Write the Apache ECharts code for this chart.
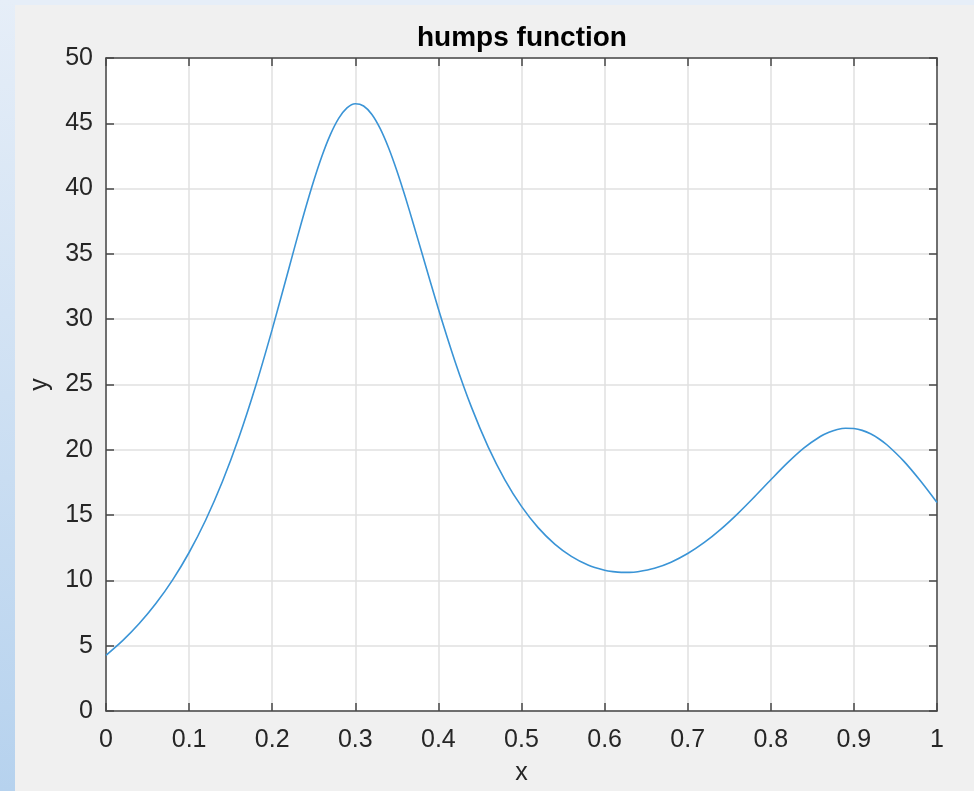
<!DOCTYPE html>
<html>
<head>
<meta charset="utf-8">
<script src="https://cdn.jsdelivr.net/npm/echarts@6/dist/echarts.min.js"></script>
<style>
html,body{margin:0;padding:0;background:#f0f0f0;}
#chart{width:974px;height:791px;}
</style>
</head>
<body>
<div id="chart"></div>
<script>
const titleText = 'humps function';
const xName = 'x';
const yName = 'y';
const xValues = [0.00,0.02,0.04,0.06,0.08,0.10,0.12,0.14,0.16,0.18,0.20,0.22,0.23,0.24,0.25,0.26,0.27,0.28,0.29,0.30,0.31,0.32,0.33,0.34,0.35,0.36,0.37,0.38,0.40,0.42,0.44,0.46,0.48,0.50,0.52,0.54,0.56,0.58,0.60,0.61,0.62,0.63,0.64,0.66,0.68,0.70,0.72,0.74,0.76,0.78,0.80,0.82,0.84,0.86,0.87,0.88,0.89,0.90,0.91,0.92,0.93,0.94,0.96,0.98,1.00];
const yValues = [4.267,5.391,6.699,8.228,10.024,12.137,14.626,17.549,20.955,24.861,29.220,33.869,36.206,38.476,40.606,42.520,44.136,45.376,46.178,46.500,46.328,45.677,44.588,43.124,41.364,39.389,37.277,35.100,30.781,26.768,23.227,20.211,17.705,15.667,14.043,12.783,11.843,11.185,10.783,10.671,10.616,10.615,10.668,10.930,11.395,12.056,12.904,13.926,15.096,16.376,17.704,18.995,20.145,21.036,21.349,21.558,21.655,21.632,21.488,21.225,20.849,20.366,19.131,17.625,15.961];
const xTickLabels = ['0','0.1','0.2','0.3','0.4','0.5','0.6','0.7','0.8','0.9','1'];
const yTickLabels = ['0','5','10','15','20','25','30','35','40','45','50'];

const FONT = '"Liberation Sans", Arial, Helvetica, sans-serif';
const TXT = '#262626';
const AX = '#474747';
const chart = echarts.init(document.getElementById('chart'), null, {renderer:'canvas'});
const pts = xValues.map((x,i)=>[x,yValues[i]]);
const tickCommon = {show:true, inside:true, length:8, lineStyle:{color:AX, width:1.5}};
const lineCommon = {show:true, onZero:false, lineStyle:{color:AX, width:1.5}};
chart.setOption({
  backgroundColor:'#f0f0f0',
  animation:false,
  graphic:[
    {type:'rect', left:0, top:0, shape:{x:0,y:0,width:974,height:5}, style:{fill:'#e6eef8'}, z:-10},
    {type:'rect', left:0, top:0, shape:{x:0,y:0,width:15,height:791},
     style:{fill:new echarts.graphic.LinearGradient(0,0,0,1,[{offset:0,color:'#e6eef8'},{offset:1,color:'#b6d2ee'}])}, z:-10}
  ],
  title:{text:titleText, left:412, top:19,
    textStyle:{fontFamily:FONT, fontWeight:'bold', fontSize:28, color:'#000'}},
  grid:{left:106, top:58, right:37, bottom:78, show:true, backgroundColor:'#ffffff', borderWidth:0},
  xAxis:[{
    type:'value', min:0, max:1, interval:0.1, position:'bottom',
    name:xName, nameLocation:'middle', nameGap:50,
    nameTextStyle:{fontFamily:FONT, fontSize:25, color:TXT},
    axisLine:lineCommon, axisTick:tickCommon,
    axisLabel:{fontFamily:FONT, fontSize:25, color:TXT, margin:17,
      formatter:(v)=>xTickLabels[Math.round(v*10)]},
    splitLine:{show:true, lineStyle:{color:'#e0e0e0', width:1.5}}
  },{
    type:'value', min:0, max:1, interval:0.1, position:'top',
    axisLine:lineCommon, axisTick:tickCommon, axisLabel:{show:false}, splitLine:{show:false}
  }],
  yAxis:[{
    type:'value', min:0, max:50, interval:5, position:'left',
    name:yName, nameLocation:'middle', nameGap:53, nameRotate:90,
    nameTextStyle:{fontFamily:FONT, fontSize:25, color:TXT},
    axisLine:lineCommon, axisTick:tickCommon,
    axisLabel:{fontFamily:FONT, fontSize:25, color:TXT, margin:13,
      formatter:(v)=>yTickLabels[Math.round(v/5)]},
    splitLine:{show:true, lineStyle:{color:'#e0e0e0', width:1.5}}
  },{
    type:'value', min:0, max:50, interval:5, position:'right',
    axisLine:lineCommon, axisTick:tickCommon, axisLabel:{show:false}, splitLine:{show:false}
  }],
  series:[{
    type:'line', data:pts, smooth:0.3, showSymbol:false, symbol:'none',
    lineStyle:{color:'#3a94d6', width:1.6}, clip:true, z:1
  }]
});
</script>
</body>
</html>
